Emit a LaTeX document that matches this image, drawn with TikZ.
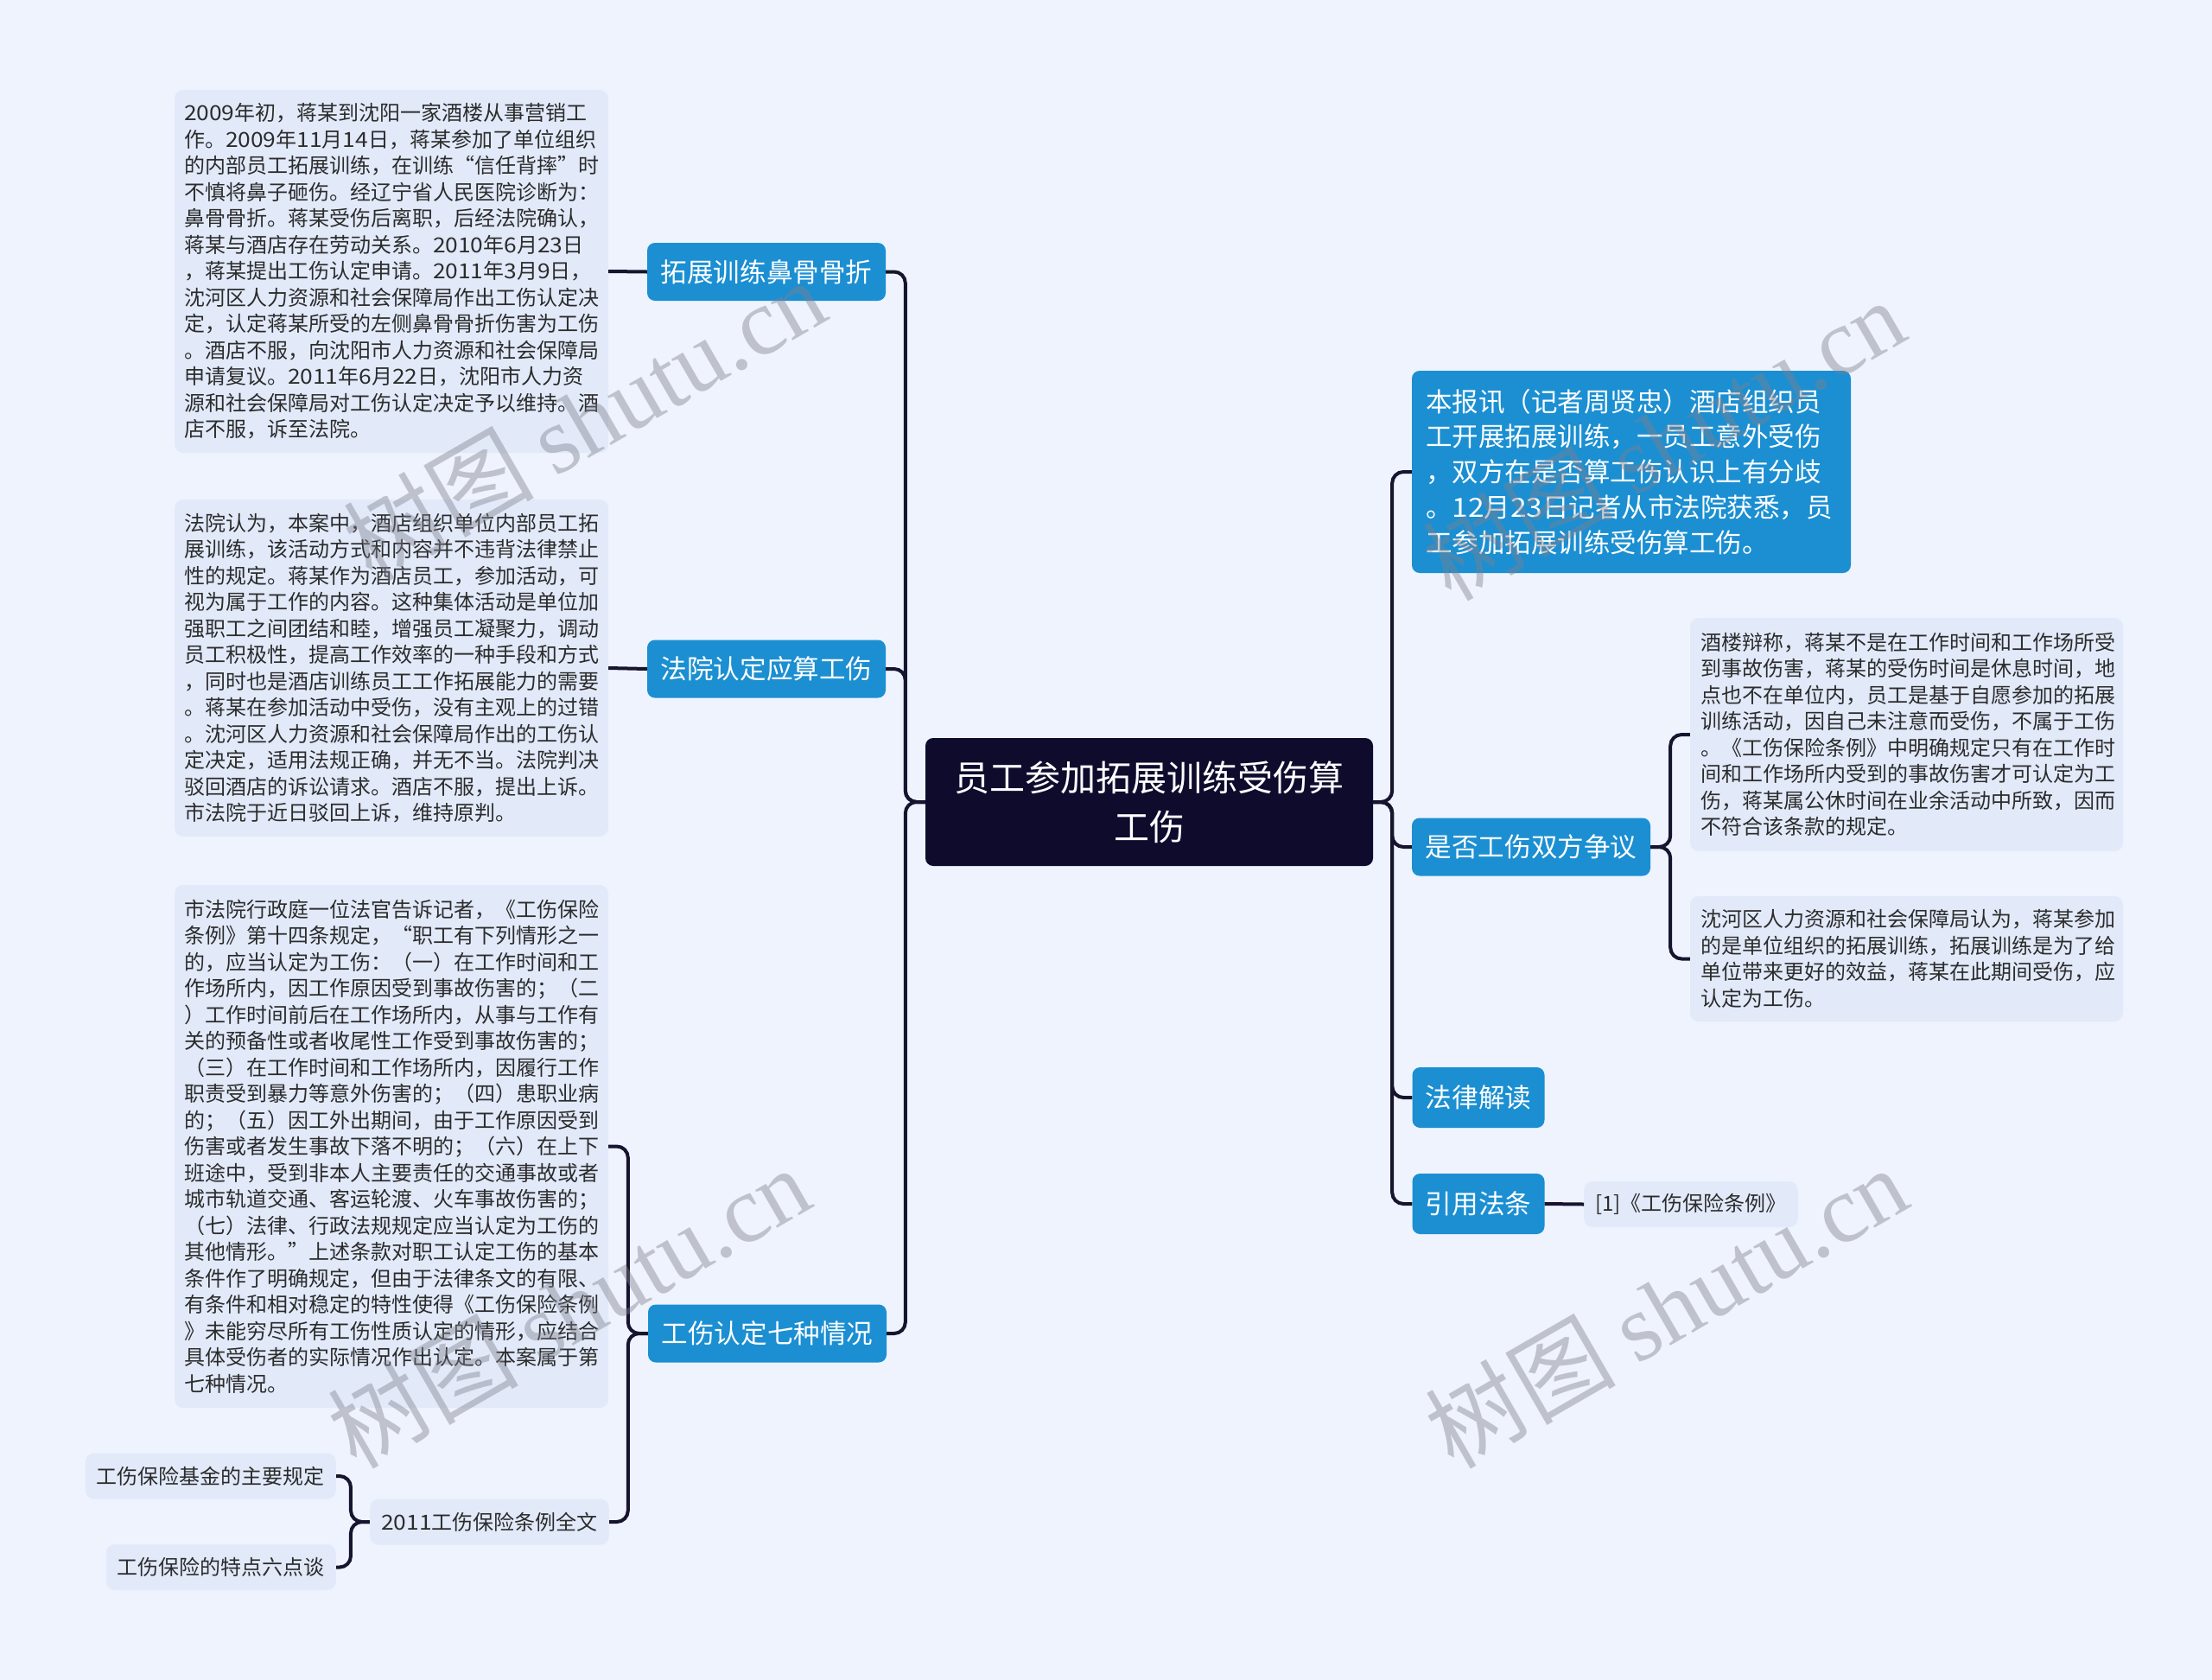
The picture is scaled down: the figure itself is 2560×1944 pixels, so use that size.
\documentclass[tikz,border=0pt]{standalone}
\usepackage{fontspec}
\setmainfont{Noto Sans CJK SC}
\newfontfamily\wmlat{Liberation Serif}
\newfontfamily\dg[FakeStretch=1.1]{Noto Sans CJK SC}
\definecolor{bgc}{HTML}{EEF3FD}
\definecolor{boxc}{HTML}{E2EAFA}
\definecolor{bluec}{HTML}{1B8FD2}
\definecolor{darkc}{HTML}{0E0B2D}
\definecolor{linec}{HTML}{16142E}
\definecolor{txtc}{HTML}{2C2C2C}
\definecolor{wmc}{HTML}{80808C}
\tikzset{
  tbox/.style={fill=boxc, rounded corners=10pt, align=left, text width=480pt, inner xsep=11pt, inner ysep=0pt, text=txtc, font=\fontsize{24}{30.5}\selectfont},
  bnode/.style={fill=bluec, text=white, rounded corners=9pt, minimum width=276pt, minimum height=67pt, inner sep=0pt, font=\fontsize{30.6}{36}\selectfont},
  snode/.style={fill=boxc, text=txtc, rounded corners=10pt, inner xsep=13pt, inner ysep=0pt, minimum height=53pt, font=\fontsize{24}{30}\selectfont},
  cnode/.style={fill=darkc, text=white, rounded corners=9pt, minimum width=518pt, minimum height=148pt, inner sep=0pt, align=center, font=\fontsize{41}{57}\selectfont},
  conn/.style={draw=linec, line width=4pt, rounded corners=13pt},
  wm/.style={text=wmc, opacity=0.42, inner sep=0pt, font=\fontsize{110}{110}\selectfont}
}
\begin{document}
\begin{tikzpicture}[x=1pt,y=-1pt]
\useasboundingbox (0,0) rectangle (2560,1944);
\fill[bgc] (0,0) rectangle (2560,1944);

% center
\node[cnode] (c) at (1330,928) {员工参加拓展训练受伤算\\工伤};

% left branch nodes
\node[bnode] (L1) at (887,314.5) {拓展训练鼻骨骨折};
\node[bnode] (L2) at (887,774) {法院认定应算工伤};
\node[bnode] (L3) at (888,1543) {工伤认定七种情况};

% left text boxes
\node[tbox, minimum height=420pt] (B1) at (453,314) {{\dg 2009}年初，蒋某到沈阳一家酒楼从事营销工\\
作。{\dg 2009}年{\dg 11}月{\dg 14}日，蒋某参加了单位组织\\
的内部员工拓展训练，在训练“信任背摔”时\\
不慎将鼻子砸伤。经辽宁省人民医院诊断为：\\
鼻骨骨折。蒋某受伤后离职，后经法院确认，\\
蒋某与酒店存在劳动关系。{\dg 2010}年{\dg 6}月{\dg 23}日\\
，蒋某提出工伤认定申请。{\dg 2011}年{\dg 3}月{\dg 9}日，\\
沈河区人力资源和社会保障局作出工伤认定决\\
定，认定蒋某所受的左侧鼻骨骨折伤害为工伤\\
。酒店不服，向沈阳市人力资源和社会保障局\\
申请复议。{\dg 2011}年{\dg 6}月{\dg 22}日，沈阳市人力资\\
源和社会保障局对工伤认定决定予以维持。酒\\
店不服，诉至法院。};

\node[tbox, minimum height=390pt] (B2) at (453,773) {法院认为，本案中，酒店组织单位内部员工拓\\
展训练，该活动方式和内容并不违背法律禁止\\
性的规定。蒋某作为酒店员工，参加活动，可\\
视为属于工作的内容。这种集体活动是单位加\\
强职工之间团结和睦，增强员工凝聚力，调动\\
员工积极性，提高工作效率的一种手段和方式\\
，同时也是酒店训练员工工作拓展能力的需要\\
。蒋某在参加活动中受伤，没有主观上的过错\\
。沈河区人力资源和社会保障局作出的工伤认\\
定决定，适用法规正确，并无不当。法院判决\\
驳回酒店的诉讼请求。酒店不服，提出上诉。\\
市法院于近日驳回上诉，维持原判。};

\node[tbox, minimum height=605pt] (B3) at (453,1326.5) {市法院行政庭一位法官告诉记者，《工伤保险\\
条例》第十四条规定，“职工有下列情形之一\\
的，应当认定为工伤：（一）在工作时间和工\\
作场所内，因工作原因受到事故伤害的；（二\\
）工作时间前后在工作场所内，从事与工作有\\
关的预备性或者收尾性工作受到事故伤害的；\\
（三）在工作时间和工作场所内，因履行工作\\
职责受到暴力等意外伤害的；（四）患职业病\\
的；（五）因工外出期间，由于工作原因受到\\
伤害或者发生事故下落不明的；（六）在上下\\
班途中，受到非本人主要责任的交通事故或者\\
城市轨道交通、客运轮渡、火车事故伤害的；\\
（七）法律、行政法规规定应当认定为工伤的\\
其他情形。”上述条款对职工认定工伤的基本\\
条件作了明确规定，但由于法律条文的有限、\\
有条件和相对稳定的特性使得《工伤保险条例\\
》未能穷尽所有工伤性质认定的情形，应结合\\
具体受伤者的实际情况作出认定。本案属于第\\
七种情况。};

\node[snode, anchor=east] (N2011) at (705,1761) {{\dg 2011}工伤保险条例全文};
\node[snode, anchor=east] (J1) at (389,1708) {工伤保险基金的主要规定};
\node[snode, anchor=east] (J2) at (389,1813.5) {工伤保险的特点六点谈};

% right side
\node[fill=bluec, text=white, rounded corners=9pt, align=left, text width=476pt, inner xsep=16pt, inner ysep=0pt, minimum height=234pt, font=\fontsize{30.5}{40.8}\selectfont] (R1) at (1888,546) {本报讯（记者周贤忠）酒店组织员\\
工开展拓展训练，一员工意外受伤\\
，双方在是否算工伤认识上有分歧\\
。{\dg 12}月{\dg 23}日记者从市法院获悉，员\\
工参加拓展训练受伤算工伤。};

\node[bnode] (R2) at (1772,980) {是否工伤双方争议};
\node[bnode, minimum width=153pt, minimum height=70pt] (R3) at (1711,1270) {法律解读};
\node[bnode, minimum width=153pt, minimum height=70pt] (R4) at (1711,1393) {引用法条};

\node[tbox, text width=477pt, inner xsep=12pt, minimum height=270pt] (RB1) at (2206.5,850) {酒楼辩称，蒋某不是在工作时间和工作场所受\\
到事故伤害，蒋某的受伤时间是休息时间，地\\
点也不在单位内，员工是基于自愿参加的拓展\\
训练活动，因自己未注意而受伤，不属于工伤\\
。《工伤保险条例》中明确规定只有在工作时\\
间和工作场所内受到的事故伤害才可认定为工\\
伤，蒋某属公休时间在业余活动中所致，因而\\
不符合该条款的规定。};

\node[tbox, text width=477pt, inner xsep=12pt, minimum height=145pt] (RB2) at (2206.5,1109.5) {沈河区人力资源和社会保障局认为，蒋某参加\\
的是单位组织的拓展训练，拓展训练是为了给\\
单位带来更好的效益，蒋某在此期间受伤，应\\
认定为工伤。};

\node[snode, anchor=west] (REF) at (1833,1393.5) {[1]《工伤保险条例》};

% connectors from center
\draw[conn] (c.west) -- ++(-23,0) |- (L1.east);
\draw[conn] (c.west) -- ++(-23,0) |- (L2.east);
\draw[conn] (c.west) -- ++(-23,0) |- (L3.east);
\draw[conn] (c.east) -- ++(22,0) |- (R1.west);
\draw[conn] (c.east) -- ++(22,0) |- (R2.west);
\draw[conn] (c.east) -- ++(22,0) |- (R3.west);
\draw[conn] (c.east) -- ++(22,0) |- (R4.west);

% sub connectors
\draw[conn] (L1.west) -- (B1.east);
\draw[conn] (L2.west) -- (B2.east);
\draw[conn] (L3.west) -- ++(-23,0) |- (B3.east);
\draw[conn] (L3.west) -- ++(-23,0) |- (N2011.east);
\draw[conn] (N2011.west) -- ++(-22,0) |- (J1.east);
\draw[conn] (N2011.west) -- ++(-22,0) |- (J2.east);
\draw[conn] (R2.east) -- ++(23,0) |- (RB1.west);
\draw[conn] (R2.east) -- ++(23,0) |- (RB2.west);
\draw[conn] (R4.east) -- (REF.west);

% watermarks
\node[wm, rotate=30] (wm1) at (676,485) {树图 {\wmlat shutu.cn}};
\node[wm, rotate=30] (wm2) at (1925,508) {树图 {\wmlat shutu.cn}};
\node[wm, rotate=30] (wm3) at (658,1512) {树图 {\wmlat shutu.cn}};
\node[wm, rotate=30] (wm4) at (1928,1512) {树图 {\wmlat shutu.cn}};
\end{tikzpicture}
\end{document}
